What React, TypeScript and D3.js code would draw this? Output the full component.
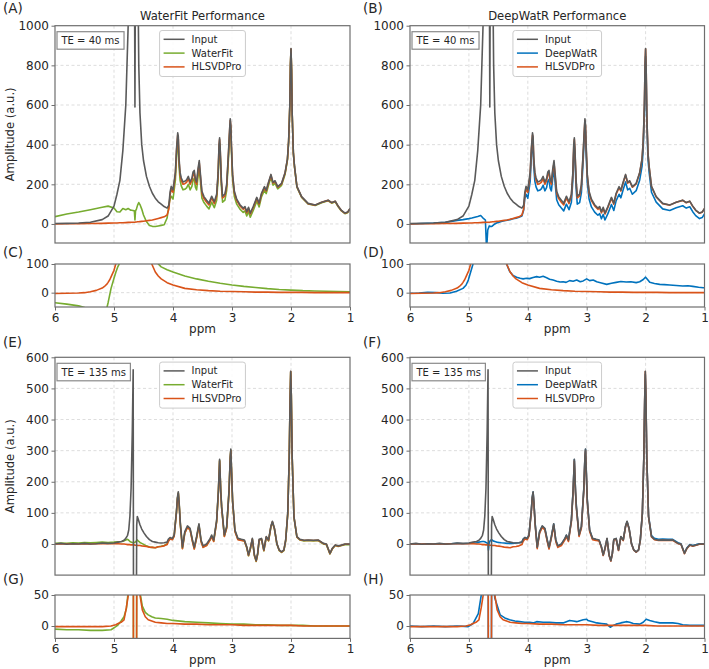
import React, { useEffect, useRef } from "react";
import * as d3 from "d3";

type Pt = [number, number];

// ---- TE = 40 ms spectra: [ppm, amplitude] ----
const input40: Pt[] = [
  [6.0, 2], [5.8, 3], [5.6, 5], [5.4, 9], [5.2, 22], [5.1, 40], [5.0, 90], [4.95, 150],
  [4.9, 220], [4.85, 370], [4.8, 600], [4.76, 1000], [4.72, 2200], [4.7, 2800], [4.68, 3000],
  [4.655, 1500], [4.645, 590], [4.635, 1500], [4.62, 2600], [4.6, 1400], [4.58, 800], [4.56, 560],
  [4.53, 400], [4.5, 320], [4.45, 240], [4.4, 190], [4.35, 155], [4.3, 130], [4.25, 112],
  [4.2, 100], [4.15, 88], [4.1, 80], [4.07, 95], [4.05, 160], [4.03, 190], [4.0, 172],
  [3.96, 260], [3.94, 380], [3.92, 460], [3.91, 440], [3.9, 340], [3.88, 260], [3.86, 232],
  [3.83, 212], [3.8, 215], [3.77, 222], [3.74, 240], [3.71, 212], [3.68, 230], [3.66, 262],
  [3.64, 270], [3.62, 225], [3.6, 212], [3.575, 280], [3.555, 320], [3.535, 250], [3.51, 165],
  [3.475, 138], [3.43, 120], [3.39, 105], [3.345, 140], [3.3, 112], [3.26, 150], [3.235, 260],
  [3.22, 400], [3.21, 435], [3.2, 380], [3.18, 220], [3.16, 140], [3.12, 150], [3.09, 200],
  [3.06, 360], [3.04, 480], [3.03, 530], [3.02, 500], [3.01, 400], [2.99, 250], [2.96, 165],
  [2.92, 125], [2.865, 97], [2.81, 80], [2.78, 88], [2.75, 62], [2.72, 84], [2.69, 55],
  [2.64, 88], [2.58, 134], [2.54, 105], [2.5, 155], [2.45, 188], [2.42, 170], [2.38, 212],
  [2.34, 250], [2.305, 210], [2.27, 218], [2.225, 188], [2.16, 205], [2.1, 260], [2.06, 330],
  [2.04, 420], [2.02, 600], [2.01, 800], [2.0, 885], [1.99, 780], [1.98, 560], [1.96, 360],
  [1.94, 290], [1.9, 190], [1.82, 138], [1.71, 104], [1.59, 96], [1.48, 110], [1.37, 120],
  [1.31, 108], [1.25, 115], [1.2, 90], [1.15, 70], [1.085, 55], [1.04, 60], [1.0, 78],
];

const waterFit40: Pt[] = [
  [6.0, 37], [5.8, 50], [5.6, 60], [5.4, 72], [5.2, 84], [5.1, 90], [5.0, 80], [4.95, 62],
  [4.9, 60], [4.85, 78], [4.8, 72], [4.76, 78], [4.72, 70], [4.7, 69], [4.68, 68],
  [4.655, 66], [4.645, 20], [4.635, 66], [4.62, 75], [4.6, 95], [4.58, 108], [4.56, 98],
  [4.53, 75], [4.5, 45], [4.45, 12], [4.4, -8], [4.35, -12], [4.3, -13], [4.25, -10],
  [4.2, -7], [4.15, -4], [4.1, 30], [4.07, 95], [4.05, 125], [4.03, 140], [4.0, 125],
  [3.96, 220], [3.94, 340], [3.92, 420], [3.91, 400], [3.9, 300], [3.88, 220], [3.86, 192],
  [3.83, 172], [3.8, 175], [3.77, 182], [3.74, 200], [3.71, 172], [3.68, 190], [3.66, 222],
  [3.64, 230], [3.62, 185], [3.6, 172], [3.575, 240], [3.555, 280], [3.535, 212], [3.51, 130],
  [3.475, 108], [3.43, 90], [3.39, 76], [3.345, 110], [3.3, 82], [3.26, 120], [3.235, 230],
  [3.22, 370], [3.21, 405], [3.2, 350], [3.18, 190], [3.16, 110], [3.12, 120], [3.09, 170],
  [3.06, 330], [3.04, 450], [3.03, 500], [3.02, 470], [3.01, 370], [2.99, 222], [2.96, 138],
  [2.92, 100], [2.865, 75], [2.81, 58], [2.78, 66], [2.75, 40], [2.72, 62], [2.69, 34],
  [2.64, 68], [2.58, 115], [2.54, 86], [2.5, 137], [2.45, 170], [2.42, 153], [2.38, 196],
  [2.34, 235], [2.305, 196], [2.27, 205], [2.225, 177], [2.16, 195], [2.1, 251], [2.06, 322],
  [2.04, 413], [2.02, 594], [2.01, 795], [2.0, 880], [1.99, 776], [1.98, 556], [1.96, 356],
  [1.94, 286], [1.9, 186], [1.82, 134], [1.71, 101], [1.59, 93], [1.48, 107], [1.37, 117],
  [1.31, 105], [1.25, 112], [1.2, 87], [1.15, 67], [1.085, 52], [1.04, 57], [1.0, 75],
];

const hlsvd40: Pt[] = [
  [6.0, 0], [5.8, 1], [5.6, 1], [5.4, 2], [5.2, 3], [5.1, 4], [5.0, 5], [4.95, 5],
  [4.9, 6], [4.85, 6], [4.8, 7], [4.76, 8], [4.72, 8], [4.7, 9], [4.68, 9],
  [4.655, 9], [4.645, 9], [4.635, 10], [4.62, 10], [4.6, 11], [4.58, 11], [4.56, 12],
  [4.53, 13], [4.5, 14], [4.45, 16], [4.4, 18], [4.35, 20], [4.3, 24], [4.25, 28],
  [4.2, 32], [4.15, 36], [4.1, 45], [4.07, 75], [4.05, 145], [4.03, 175], [4.0, 160],
  [3.96, 248], [3.94, 368], [3.92, 448], [3.91, 428], [3.9, 328], [3.88, 248], [3.86, 220],
  [3.83, 200], [3.8, 203], [3.77, 210], [3.74, 228], [3.71, 200], [3.68, 218], [3.66, 250],
  [3.64, 258], [3.62, 213], [3.6, 200], [3.575, 268], [3.555, 308], [3.535, 238], [3.51, 154],
  [3.475, 128], [3.43, 110], [3.39, 96], [3.345, 131], [3.3, 103], [3.26, 141], [3.235, 251],
  [3.22, 391], [3.21, 426], [3.2, 371], [3.18, 211], [3.16, 131], [3.12, 141], [3.09, 191],
  [3.06, 351], [3.04, 471], [3.03, 521], [3.02, 491], [3.01, 391], [2.99, 242], [2.96, 157],
  [2.92, 118], [2.865, 91], [2.81, 74], [2.78, 82], [2.75, 56], [2.72, 78], [2.69, 50],
  [2.64, 83], [2.58, 129], [2.54, 100], [2.5, 150], [2.45, 183], [2.42, 166], [2.38, 208],
  [2.34, 246], [2.305, 206], [2.27, 214], [2.225, 185], [2.16, 202], [2.1, 257], [2.06, 327],
  [2.04, 417], [2.02, 597], [2.01, 797], [2.0, 882], [1.99, 777], [1.98, 557], [1.96, 357],
  [1.94, 287], [1.9, 188], [1.82, 136], [1.71, 102], [1.59, 95], [1.48, 109], [1.37, 119],
  [1.31, 107], [1.25, 114], [1.2, 89], [1.15, 69], [1.085, 54], [1.04, 59], [1.0, 77],
];

const deepWatR40: Pt[] = [
  [6.0, 0], [5.8, 2], [5.6, 4], [5.4, 8], [5.2, 18], [5.1, 22], [5.0, 27], [4.95, 30],
  [4.9, 34], [4.85, 38], [4.8, 43], [4.76, 30], [4.72, 20], [4.7, -130], [4.68, -30],
  [4.655, -10], [4.645, -12], [4.635, -12], [4.62, -13], [4.6, -10], [4.58, -5], [4.56, 0],
  [4.53, 5], [4.5, 8], [4.45, 12], [4.4, 16], [4.35, 19], [4.3, 22], [4.25, 26],
  [4.2, 29], [4.15, 34], [4.1, 40], [4.07, 70], [4.05, 130], [4.03, 150], [4.0, 130],
  [3.96, 215], [3.94, 335], [3.92, 415], [3.91, 395], [3.9, 295], [3.88, 215], [3.86, 187],
  [3.83, 167], [3.8, 170], [3.77, 177], [3.74, 195], [3.71, 167], [3.68, 185], [3.66, 217],
  [3.64, 225], [3.62, 180], [3.6, 167], [3.575, 235], [3.555, 275], [3.535, 205], [3.51, 122],
  [3.475, 97], [3.43, 80], [3.39, 66], [3.345, 100], [3.3, 72], [3.26, 110], [3.235, 220],
  [3.22, 360], [3.21, 395], [3.2, 340], [3.18, 180], [3.16, 100], [3.12, 108], [3.09, 158],
  [3.06, 318], [3.04, 438], [3.03, 488], [3.02, 458], [3.01, 358], [2.99, 210], [2.96, 126],
  [2.92, 86], [2.865, 60], [2.81, 44], [2.78, 52], [2.75, 26], [2.72, 48], [2.69, 20],
  [2.64, 52], [2.58, 98], [2.54, 68], [2.5, 118], [2.45, 150], [2.42, 132], [2.38, 174],
  [2.34, 212], [2.305, 172], [2.27, 180], [2.225, 150], [2.16, 168], [2.1, 222], [2.06, 292],
  [2.04, 380], [2.02, 560], [2.01, 760], [2.0, 845], [1.99, 745], [1.98, 525], [1.96, 328],
  [1.94, 260], [1.9, 160], [1.82, 110], [1.71, 76], [1.59, 68], [1.48, 82], [1.37, 92],
  [1.31, 80], [1.25, 87], [1.2, 62], [1.15, 42], [1.085, 27], [1.04, 32], [1.0, 50],
];

// water components removed at TE = 40 ms
const waterFitWater40: Pt[] = [
  [6.0, -35], [5.8, -40], [5.6, -46], [5.5, -52], [5.4, -60], [5.3, -72], [5.2, -85], [5.15, -75],
  [5.12, -52], [5.1, -35], [5.07, -5], [5.05, 15], [5.0, 50], [4.97, 70], [4.94, 88], [4.9, 105],
  [4.8, 300], [4.7, 1500], [4.6, 1200], [4.5, 500], [4.4, 200], [4.36, 160], [4.3, 120], [4.25, 100],
  [4.2, 90], [4.1, 80], [4.0, 72], [3.8, 58], [3.6, 48], [3.4, 40], [3.2, 33], [3.0, 27],
  [2.8, 22], [2.6, 18], [2.4, 14], [2.2, 11], [2.0, 9], [1.8, 7], [1.6, 6], [1.4, 5],
  [1.2, 4], [1.0, 3],
];

const hlsvdWater40: Pt[] = [
  [6.0, -3], [5.8, -2], [5.6, -1], [5.5, 0], [5.4, 3], [5.3, 8], [5.2, 16], [5.15, 24],
  [5.12, 30], [5.1, 36], [5.07, 46], [5.05, 55], [5.0, 78], [4.97, 100], [4.94, 130], [4.9, 200],
  [4.8, 600], [4.7, 2000], [4.6, 1500], [4.5, 400], [4.4, 130], [4.36, 100], [4.3, 72], [4.25, 58],
  [4.2, 48], [4.1, 35], [4.0, 27], [3.8, 15], [3.6, 10], [3.4, 7], [3.2, 5], [3.0, 4],
  [2.8, 3], [2.6, 2], [2.4, 2], [2.2, 1], [2.0, 1], [1.8, 1], [1.6, 0], [1.4, 0],
  [1.2, 0], [1.0, 0],
];

const deepWatRWater40: Pt[] = [
  [6.0, -2], [5.85, -1], [5.7, 1], [5.55, 0], [5.44, -2], [5.32, -1], [5.21, 5], [5.1, 15],
  [5.05, 26], [5.01, 44], [4.96, 79], [4.93, 100], [4.8, 500], [4.7, 2000], [4.6, 1500], [4.5, 300],
  [4.4, 130], [4.36, 100], [4.31, 75], [4.25, 60], [4.19, 54], [4.13, 50], [4.08, 48], [4.02, 50],
  [3.97, 49], [3.91, 53], [3.85, 56], [3.8, 54], [3.74, 57], [3.68, 52], [3.63, 47], [3.57, 44],
  [3.51, 40], [3.45, 37], [3.4, 38], [3.35, 36], [3.29, 42], [3.23, 40], [3.17, 44], [3.11, 38],
  [3.06, 41], [3.0, 48], [2.95, 42], [2.89, 44], [2.83, 38], [2.75, 34], [2.66, 29], [2.58, 33],
  [2.5, 36], [2.42, 39], [2.33, 37], [2.25, 38], [2.16, 35], [2.1, 38], [2.04, 46], [2.0, 54],
  [1.96, 44], [1.93, 36], [1.85, 32], [1.76, 29], [1.68, 28], [1.59, 27], [1.48, 25], [1.37, 23],
  [1.28, 24], [1.2, 22], [1.1, 19], [1.02, 17], [1.0, 17],
];

// ---- TE = 135 ms spectra ----
const input135: Pt[] = [
  [6.0, 0], [5.9, 2], [5.8, -1], [5.7, 1], [5.6, 0], [5.5, 2], [5.4, 0], [5.3, 1],
  [5.2, 3], [5.1, 2], [5.0, 3], [4.93, 6], [4.87, 8], [4.83, 12], [4.8, 18], [4.77, 28],
  [4.75, 45], [4.73, 90], [4.71, 180], [4.69, 360], [4.675, 560], [4.668, -400], [4.655, -400],
  [4.64, -400], [4.625, -400], [4.615, 60], [4.605, 88], [4.59, 80], [4.56, 62], [4.53, 48],
  [4.49, 35], [4.45, 24], [4.4, 14], [4.35, 8], [4.3, 6], [4.25, 4], [4.2, 3], [4.15, 4],
  [4.1, 6], [4.08, 15], [4.05, 21], [4.01, 18], [3.98, 29], [3.94, 109], [3.925, 150],
  [3.91, 168], [3.895, 130], [3.875, 66], [3.84, -10], [3.8, 40], [3.755, 58], [3.71, 50],
  [3.67, 13], [3.64, -11], [3.6, 24], [3.56, 65], [3.525, 13], [3.49, -6], [3.43, 0],
  [3.37, 18], [3.345, 29], [3.31, 13], [3.26, 77], [3.23, 174], [3.21, 272], [3.19, 170],
  [3.175, 120], [3.13, 29], [3.09, 56], [3.05, 174], [3.03, 280], [3.02, 305], [3.01, 250],
  [2.99, 141], [2.95, 45], [2.9, 18], [2.84, 15], [2.79, 13], [2.75, -9], [2.72, -35],
  [2.69, -14], [2.655, 18], [2.62, -35], [2.59, -53], [2.565, -30], [2.54, 15], [2.5, 18],
  [2.46, -19], [2.42, 24], [2.38, 13], [2.34, 58], [2.315, 73], [2.28, 50], [2.24, 2],
  [2.2, -19], [2.16, -25], [2.12, -19], [2.09, 13], [2.055, 99], [2.03, 280], [2.015, 470],
  [2.005, 555], [1.995, 480], [1.98, 280], [1.95, 88], [1.9, 24], [1.85, 15], [1.78, 12],
  [1.71, 13], [1.62, 12], [1.54, 13], [1.45, 2], [1.4, 0], [1.34, -30], [1.3, -14],
  [1.25, -3], [1.2, -6], [1.14, -3], [1.085, 0], [1.0, 0],
];

const waterFit135: Pt[] = [
  [6.0, 2], [5.9, 3], [5.8, 2], [5.7, 4], [5.6, 3], [5.5, 5], [5.4, 4], [5.3, 5],
  [5.2, 6], [5.1, 5], [5.0, 6], [4.93, 7], [4.87, 8], [4.83, 10], [4.8, 13], [4.77, 15],
  [4.75, 12], [4.73, 8], [4.71, 6], [4.69, 5], [4.675, 4], [4.668, 4], [4.655, 5],
  [4.64, 6], [4.625, 9], [4.615, 12], [4.605, 13], [4.59, 10], [4.56, 5], [4.53, 2],
  [4.49, -2], [4.45, -6], [4.4, -10], [4.35, -11], [4.3, -12], [4.25, -9], [4.2, -7], [4.15, -5],
  [4.1, 0], [4.08, 10], [4.05, 17], [4.01, 15], [3.98, 26], [3.94, 105], [3.925, 146],
  [3.91, 164], [3.895, 126], [3.875, 62], [3.84, -14], [3.8, 36], [3.755, 54], [3.71, 46],
  [3.67, 9], [3.64, -15], [3.6, 20], [3.56, 61], [3.525, 9], [3.49, -10], [3.43, -4],
  [3.37, 14], [3.345, 25], [3.31, 9], [3.26, 73], [3.23, 170], [3.21, 268], [3.19, 166],
  [3.175, 116], [3.13, 25], [3.09, 52], [3.05, 170], [3.03, 276], [3.02, 301], [3.01, 246],
  [2.99, 137], [2.95, 41], [2.9, 15], [2.84, 12], [2.79, 10], [2.75, -12], [2.72, -38],
  [2.69, -17], [2.655, 15], [2.62, -38], [2.59, -56], [2.565, -33], [2.54, 12], [2.5, 15],
  [2.46, -22], [2.42, 21], [2.38, 10], [2.34, 55], [2.315, 70], [2.28, 47], [2.24, 0],
  [2.2, -21], [2.16, -27], [2.12, -21], [2.09, 11], [2.055, 97], [2.03, 278], [2.015, 468],
  [2.005, 553], [1.995, 478], [1.98, 278], [1.95, 86], [1.9, 22], [1.85, 13], [1.78, 10],
  [1.71, 11], [1.62, 10], [1.54, 11], [1.45, 0], [1.4, -2], [1.34, -32], [1.3, -16],
  [1.25, -5], [1.2, -8], [1.14, -5], [1.085, -2], [1.0, -2],
];

const hlsvd135: Pt[] = [
  [6.0, 0], [5.9, 1], [5.8, 0], [5.7, 1], [5.6, 0], [5.5, 1], [5.4, 0], [5.3, 1],
  [5.2, 1], [5.1, 1], [5.0, 1], [4.93, 1], [4.87, 0], [4.83, 0], [4.8, -1], [4.77, -2],
  [4.75, -2], [4.73, -2], [4.71, -3], [4.69, -3], [4.675, -3], [4.668, -3], [4.655, -3],
  [4.64, -4], [4.625, -4], [4.615, -4], [4.605, -5], [4.59, -5], [4.56, -5], [4.53, -6],
  [4.49, -7], [4.45, -8], [4.4, -10], [4.35, -11], [4.3, -12], [4.25, -9], [4.2, -8], [4.15, -6],
  [4.1, -2], [4.08, 8], [4.05, 16], [4.01, 14], [3.98, 25], [3.94, 104], [3.925, 145],
  [3.91, 163], [3.895, 125], [3.875, 61], [3.84, -15], [3.8, 35], [3.755, 53], [3.71, 45],
  [3.67, 8], [3.64, -16], [3.6, 19], [3.56, 60], [3.525, 8], [3.49, -11], [3.43, -5],
  [3.37, 13], [3.345, 24], [3.31, 8], [3.26, 72], [3.23, 169], [3.21, 267], [3.19, 165],
  [3.175, 115], [3.13, 24], [3.09, 51], [3.05, 169], [3.03, 275], [3.02, 300], [3.01, 245],
  [2.99, 136], [2.95, 40], [2.9, 14], [2.84, 11], [2.79, 10], [2.75, -11], [2.72, -37],
  [2.69, -16], [2.655, 16], [2.62, -37], [2.59, -55], [2.565, -32], [2.54, 13], [2.5, 16],
  [2.46, -21], [2.42, 22], [2.38, 11], [2.34, 56], [2.315, 71], [2.28, 48], [2.24, 1],
  [2.2, -20], [2.16, -26], [2.12, -20], [2.09, 12], [2.055, 98], [2.03, 279], [2.015, 469],
  [2.005, 554], [1.995, 479], [1.98, 279], [1.95, 87], [1.9, 23], [1.85, 14], [1.78, 11],
  [1.71, 12], [1.62, 11], [1.54, 12], [1.45, 1], [1.4, -1], [1.34, -31], [1.3, -15],
  [1.25, -4], [1.2, -7], [1.14, -4], [1.085, -1], [1.0, -1],
];

const deepWatR135: Pt[] = [
  [6.0, 0], [5.9, 1], [5.8, -1], [5.7, 1], [5.6, 0], [5.5, 1], [5.4, -1], [5.3, 1],
  [5.2, 2], [5.1, 1], [5.0, 2], [4.93, 3], [4.87, 4], [4.83, 6], [4.8, 7], [4.77, 8],
  [4.75, 8], [4.73, 7], [4.71, 5], [4.69, 3], [4.675, 0], [4.668, -20], [4.655, 5],
  [4.64, 10], [4.625, 13], [4.615, 14], [4.605, 13], [4.59, 10], [4.56, 8], [4.53, 6],
  [4.49, 5], [4.45, 4], [4.4, 3], [4.35, 2], [4.3, 2], [4.25, 2], [4.2, 3], [4.15, 4],
  [4.1, 6], [4.08, 15], [4.05, 21], [4.01, 17], [3.98, 28], [3.94, 108], [3.925, 149],
  [3.91, 167], [3.895, 129], [3.875, 65], [3.84, -11], [3.8, 39], [3.755, 57], [3.71, 49],
  [3.67, 12], [3.64, -12], [3.6, 23], [3.56, 64], [3.525, 12], [3.49, -7], [3.43, -1],
  [3.37, 17], [3.345, 28], [3.31, 12], [3.26, 76], [3.23, 173], [3.21, 271], [3.19, 169],
  [3.175, 119], [3.13, 28], [3.09, 55], [3.05, 173], [3.03, 279], [3.02, 304], [3.01, 249],
  [2.99, 140], [2.95, 44], [2.9, 17], [2.84, 14], [2.79, 12], [2.75, -10], [2.72, -36],
  [2.69, -15], [2.655, 17], [2.62, -36], [2.59, -54], [2.565, -31], [2.54, 14], [2.5, 17],
  [2.46, -20], [2.42, 23], [2.38, 12], [2.34, 57], [2.315, 72], [2.28, 49], [2.24, 1],
  [2.2, -20], [2.16, -26], [2.12, -20], [2.09, 12], [2.055, 98], [2.03, 276], [2.015, 462],
  [2.005, 545], [1.995, 472], [1.98, 278], [1.95, 90], [1.9, 27], [1.85, 18], [1.78, 15],
  [1.71, 16], [1.62, 15], [1.54, 15], [1.45, 4], [1.4, 1], [1.34, -29], [1.3, -13],
  [1.25, -2], [1.2, -5], [1.14, -2], [1.085, 1], [1.0, 1],
];

// water components removed at TE = 135 ms
const waterFitWater135: Pt[] = [
  [6.0, -5], [5.8, -6], [5.6, -6], [5.4, -7], [5.2, -7], [5.05, -6], [4.97, -1], [4.93, 2],
  [4.88, 8], [4.83, 15], [4.79, 28], [4.76, 55], [4.73, 110], [4.7, 230], [4.675, 550],
  [4.668, -400], [4.655, -400], [4.64, -400], [4.625, -400], [4.615, 70], [4.6, 85], [4.56, 55],
  [4.52, 32], [4.47, 22], [4.42, 18], [4.36, 15], [4.3, 13], [4.2, 12], [4.1, 11], [4.0, 9],
  [3.8, 7], [3.6, 6], [3.4, 5], [3.2, 4], [3.0, 3], [2.8, 3], [2.6, 2], [2.4, 2],
  [2.2, 1], [2.0, 1], [1.8, 1], [1.6, 0], [1.4, 0], [1.2, 0], [1.0, 0],
];

const hlsvdWater135: Pt[] = [
  [6.0, -1], [5.8, -1], [5.6, -1], [5.4, -1], [5.2, -1], [5.05, 0], [4.97, 2], [4.93, 4],
  [4.88, 6], [4.83, 10], [4.79, 30], [4.76, 48], [4.73, 100], [4.7, 250], [4.675, 560],
  [4.668, -400], [4.655, -400], [4.64, -400], [4.625, -400], [4.615, 70], [4.6, 80], [4.56, 50],
  [4.52, 26], [4.47, 15], [4.42, 10], [4.36, 8], [4.3, 6], [4.2, 5], [4.1, 4], [4.0, 4],
  [3.8, 3], [3.6, 3], [3.4, 2], [3.2, 2], [3.0, 2], [2.8, 1], [2.6, 1], [2.4, 1],
  [2.2, 1], [2.0, 1], [1.8, 0], [1.6, 0], [1.4, 0], [1.2, 0], [1.0, 0],
];

const deepWatRWater135: Pt[] = [
  [6.0, 0], [5.8, -1], [5.6, 0], [5.4, -1], [5.2, 0], [5.01, -1], [4.93, 4], [4.84, 20],
  [4.79, 50], [4.76, 100], [4.73, 200], [4.7, 350], [4.675, 550], [4.668, -400], [4.655, -400],
  [4.64, -400], [4.625, -400], [4.615, 60], [4.6, 80], [4.56, 45], [4.47, 18], [4.39, 13],
  [4.31, 10], [4.22, 8], [4.14, 7], [4.05, 6], [3.97, 6], [3.91, 5], [3.85, 7], [3.74, 6],
  [3.63, 6], [3.52, 5], [3.4, 5], [3.29, 9], [3.23, 8], [3.17, 7], [3.06, 10], [3.0, 11],
  [2.98, 9], [2.9, 7], [2.83, 5], [2.75, 4], [2.66, 3], [2.6, -2], [2.55, 1], [2.5, 3],
  [2.42, 5], [2.33, 7], [2.27, 6], [2.21, 4], [2.1, 3], [2.04, 6], [1.99, 11], [1.93, 9],
  [1.85, 7], [1.76, 5], [1.65, 5], [1.54, 5], [1.45, 4], [1.37, 2], [1.25, 1], [1.12, 1],
  [1.03, 1], [1.0, 1],
];

const ppmTicks = [6, 5, 4, 3, 2, 1];
const ampTicks40 = [0, 200, 400, 600, 800, 1000];
const ampTicks135 = [0, 100, 200, 300, 400, 500, 600];
const waterTicks40 = [0, 100];
const waterTicks135 = [0, 50];

const GRAY = "#5a5a5a";
const GREEN = "#77ac30";
const RED = "#d95319";
const BLUE = "#0072bd";
const FRAME = "#6e6e6e";
const INK = "#262626";
const FONT = "DejaVu Sans, sans-serif";

const COLS = [{ left: 55, width: 295 }, { left: 410, width: 294.5 }];
const ROWS = [
  { top: 25.7, height: 217.3 },
  { top: 264, height: 43 },
  { top: 357.3, height: 217.8 },
  { top: 595, height: 43.4 },
];

const panels = [
  {
    tag: "(A)", tagY: 13, col: 0, row: 0, yDomain: [-96, 1000], yTicks: ampTicks40,
    title: "WaterFit Performance", te: "TE = 40 ms", yLabel: true,
    series: [{ d: waterFit40, c: GREEN }, { d: hlsvd40, c: RED }, { d: input40, c: GRAY }],
    legend: [["Input", GRAY], ["WaterFit", GREEN], ["HLSVDPro", RED]],
  },
  {
    tag: "(B)", tagY: 13, col: 1, row: 0, yDomain: [-96, 1000], yTicks: ampTicks40,
    title: "DeepWatR Performance", te: "TE = 40 ms",
    series: [{ d: deepWatR40, c: BLUE }, { d: hlsvd40, c: RED }, { d: input40, c: GRAY }],
    legend: [["Input", GRAY], ["DeepWatR", BLUE], ["HLSVDPro", RED]],
  },
  {
    tag: "(C)", tagY: 257, col: 0, row: 1, yDomain: [-50, 100], yTicks: waterTicks40, xLabels: true,
    series: [{ d: waterFitWater40, c: GREEN }, { d: hlsvdWater40, c: RED }],
  },
  {
    tag: "(D)", tagY: 257, col: 1, row: 1, yDomain: [-50, 100], yTicks: waterTicks40, xLabels: true,
    series: [{ d: deepWatRWater40, c: BLUE }, { d: hlsvdWater40, c: RED }],
  },
  {
    tag: "(E)", tagY: 347, col: 0, row: 2, yDomain: [-100, 600], yTicks: ampTicks135,
    te: "TE = 135 ms", yLabel: true,
    series: [{ d: waterFit135, c: GREEN }, { d: hlsvd135, c: RED }, { d: input135, c: GRAY }],
    legend: [["Input", GRAY], ["WaterFit", GREEN], ["HLSVDPro", RED]],
  },
  {
    tag: "(F)", tagY: 347, col: 1, row: 2, yDomain: [-100, 600], yTicks: ampTicks135,
    te: "TE = 135 ms",
    series: [{ d: deepWatR135, c: BLUE }, { d: hlsvd135, c: RED }, { d: input135, c: GRAY }],
    legend: [["Input", GRAY], ["DeepWatR", BLUE], ["HLSVDPro", RED]],
  },
  {
    tag: "(G)", tagY: 583.5, col: 0, row: 3, yDomain: [-20, 50], yTicks: waterTicks135, xLabels: true,
    series: [{ d: waterFitWater135, c: GREEN }, { d: hlsvdWater135, c: RED }],
  },
  {
    tag: "(H)", tagY: 583.5, col: 1, row: 3, yDomain: [-20, 50], yTicks: waterTicks135, xLabels: true,
    series: [{ d: deepWatRWater135, c: BLUE }, { d: hlsvdWater135, c: RED }],
  },
];

const App = () => {
  const svgRef = useRef<SVGSVGElement>(null);

  useEffect(() => {
    const svg = d3.select(svgRef.current);
    svg.selectAll("*").remove();
    const defs = svg.append("defs");

    panels.forEach((p: any, i) => {
      const { left, width } = COLS[p.col];
      const { top, height } = ROWS[p.row];
      const right = left + width;
      const bottom = top + height;

      const x = d3.scaleLinear().domain([6, 1]).range([left, right]);
      const y = d3.scaleLinear().domain(p.yDomain).range([bottom, top]);
      const g = svg.append("g").attr("class", "panel");

      defs.append("clipPath").attr("id", `clip-${i}`)
        .append("rect")
        .attr("x", left).attr("y", top)
        .attr("width", width).attr("height", height);

      // dashed grid
      g.append("g").selectAll("line")
        .data(ppmTicks.slice(1, -1))
        .join("line")
        .attr("x1", d => x(d)).attr("x2", d => x(d))
        .attr("y1", top).attr("y2", bottom)
        .attr("stroke", "#d4d4d4").attr("stroke-width", 0.8)
        .attr("stroke-dasharray", "3,2.5");
      g.append("g").selectAll("line")
        .data(p.yTicks.filter((t: number) => y(t) > top + 1))
        .join("line")
        .attr("x1", left).attr("x2", right)
        .attr("y1", (d: number) => y(d)).attr("y2", (d: number) => y(d))
        .attr("stroke", "#d4d4d4").attr("stroke-width", 0.8)
        .attr("stroke-dasharray", "3,2.5");

      const line = d3.line<Pt>().x(d => x(d[0])).y(d => y(d[1]));
      const plot = g.append("g").attr("clip-path", `url(#clip-${i})`);
      p.series.forEach((s: any) => {
        plot.append("path")
          .attr("d", line(s.d))
          .attr("fill", "none")
          .attr("stroke", s.c)
          .attr("stroke-width", 1.6)
          .attr("stroke-linejoin", "round");
      });

      // frame
      g.append("rect")
        .attr("x", left).attr("y", top)
        .attr("width", width).attr("height", height)
        .attr("fill", "none").attr("stroke", FRAME).attr("stroke-width", 1.2);

      const yAxis = g.append("g")
        .attr("transform", `translate(${left},0)`)
        .call(d3.axisLeft(y).tickValues(p.yTicks).tickSize(3.5).tickPadding(2.5).tickFormat(d3.format("d")))
        .attr("font-size", 12).attr("font-family", FONT);
      yAxis.select(".domain").remove();
      yAxis.selectAll("line").attr("stroke", FRAME).attr("stroke-width", 1);
      yAxis.selectAll("text").attr("fill", INK);

      if (p.xLabels) {
        const xAxis = g.append("g")
          .attr("transform", `translate(0,${bottom})`)
          .call(d3.axisBottom(x).tickValues(ppmTicks).tickSize(3.5).tickPadding(2.5).tickFormat(d3.format("d")))
          .attr("font-size", 12).attr("font-family", FONT);
        xAxis.select(".domain").remove();
        xAxis.selectAll("line").attr("stroke", FRAME).attr("stroke-width", 1);
        xAxis.selectAll("text").attr("fill", INK);

        g.append("text")
          .attr("x", (left + right) / 2).attr("y", bottom + 26)
          .attr("text-anchor", "middle")
          .attr("font-size", 12).attr("font-family", FONT).attr("fill", INK)
          .text("ppm");
      }

      if (p.yLabel) {
        g.append("text")
          .attr("transform", `translate(10,${(top + bottom) / 2}) rotate(-90)`)
          .attr("text-anchor", "middle")
          .attr("dy", "0.35em")
          .attr("font-size", 11.6).attr("font-family", FONT).attr("fill", INK)
          .text("Amplitude (a.u.)");
      }

      if (p.title) {
        g.append("text")
          .attr("x", (left + right) / 2).attr("y", 20)
          .attr("text-anchor", "middle")
          .attr("font-size", 11.6).attr("font-family", FONT).attr("fill", INK)
          .text(p.title);
      }

      g.append("text")
        .attr("x", p.col === 0 ? 3 : 363).attr("y", p.tagY)
        .attr("font-size", 13.5).attr("font-family", FONT).attr("fill", INK)
        .text(p.tag);

      // echo time box, upper left
      if (p.te) {
        const box = g.append("g");
        const rect = box.append("rect");
        const label = box.append("text")
          .attr("font-size", 10).attr("font-family", FONT).attr("fill", INK)
          .attr("text-anchor", "middle")
          .text(p.te);
        const tw = (label.node() as SVGTextElement).getComputedTextLength();
        const bw = tw + 9;
        rect.attr("x", left + 2).attr("y", top + 6)
          .attr("width", bw).attr("height", 17.5)
          .attr("fill", "white").attr("stroke", "#8a8a8a").attr("stroke-width", 1.2);
        label.attr("x", left + 2 + bw / 2).attr("y", top + 6 + 12.3);
      }

      // legend, upper center
      if (p.legend) {
        const lg = g.append("g");
        const frame = lg.append("rect");
        const items = lg.selectAll("g.item")
          .data(p.legend)
          .join("g")
          .attr("class", "item");
        const texts = items.append("text")
          .attr("font-size", 10).attr("font-family", FONT).attr("fill", INK)
          .attr("dy", "0.35em")
          .text((d: any) => d[0]);
        let maxW = 0;
        texts.each(function () {
          maxW = Math.max(maxW, (this as SVGTextElement).getComputedTextLength());
        });
        const lw = 32 + maxW + 4;
        const lx = (left + right) / 2 - lw / 2;
        const ly = top + 4.8;
        frame.attr("x", lx).attr("y", ly)
          .attr("width", lw).attr("height", 46)
          .attr("rx", 2.5)
          .attr("fill", "white").attr("fill-opacity", 0.85)
          .attr("stroke", "#cccccc").attr("stroke-width", 1);
        items.append("line")
          .attr("x1", lx + 4).attr("x2", lx + 25)
          .attr("y1", (d: any, k: number) => ly + 8.8 + k * 13.8)
          .attr("y2", (d: any, k: number) => ly + 8.8 + k * 13.8)
          .attr("stroke", (d: any) => d[1])
          .attr("stroke-width", 1.5);
        texts
          .attr("x", lx + 32)
          .attr("y", (d: any, k: number) => ly + 8.8 + k * 13.8);
      }
    });
  }, []);

  return (
    <svg
      ref={svgRef}
      width={709}
      height={669}
      style={{ position: "absolute", left: 0, top: 0, background: "white" }}
    />
  );
};

export default App;
